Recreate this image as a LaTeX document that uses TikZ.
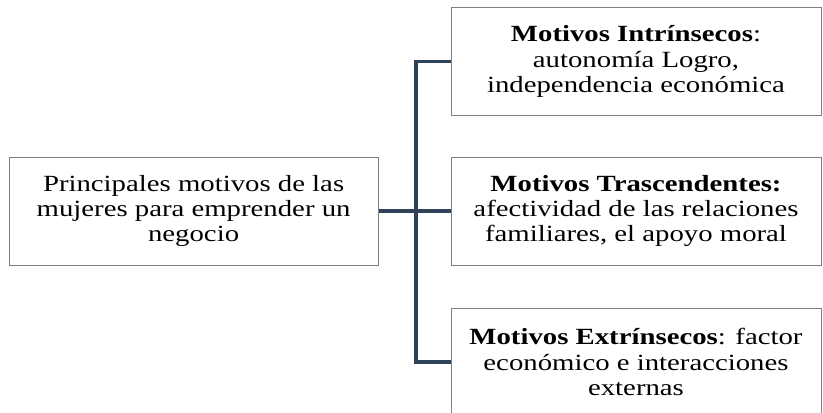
\documentclass[tikz,border=0pt]{standalone}
\usepackage{fontspec}
\setmainfont[FakeStretch=1.24]{Liberation Serif}
\definecolor{linkblue}{HTML}{2F4358}
\definecolor{boxgray}{HTML}{808080}
\begin{document}
\begin{tikzpicture}[
	motivo/.style={draw=boxgray,line width=0.6pt,align=center,
		minimum width=9.25cm,minimum height=2.7cm,inner sep=0pt,
		font=\fontsize{16.5}{18}\selectfont},
	link/.style={draw=linkblue,line width=2.4pt}]
	\useasboundingbox (0,0) rectangle (20.575,-10.3);

	\node[motivo,minimum width=9.225cm] (main) at (4.84,-5.275)
	{Principales motivos de las\\mujeres para emprender un\\negocio};
	\node[motivo] (intr) at (15.9,-1.5375)
	{\textbf{Motivos Intrínsecos}:\\autonomía Logro,\\independencia económica};
	\node[motivo] (tras) at (15.9,-5.275)
	{\textbf{Motivos Trascendentes:}\\afectividad de las relaciones\\familiares, el apoyo moral};
	\node[motivo] (extr) at (15.9,-9.05)
	{\textbf{Motivos Extrínsecos}: factor\\económico e interacciones\\externas};

	\coordinate (junc) at (10.4,-5.275);
	\draw[link] (main.east) -- (tras.west);
	\draw[link] (intr.west) -| (junc) |- (extr.west);
\end{tikzpicture}
\end{document}
